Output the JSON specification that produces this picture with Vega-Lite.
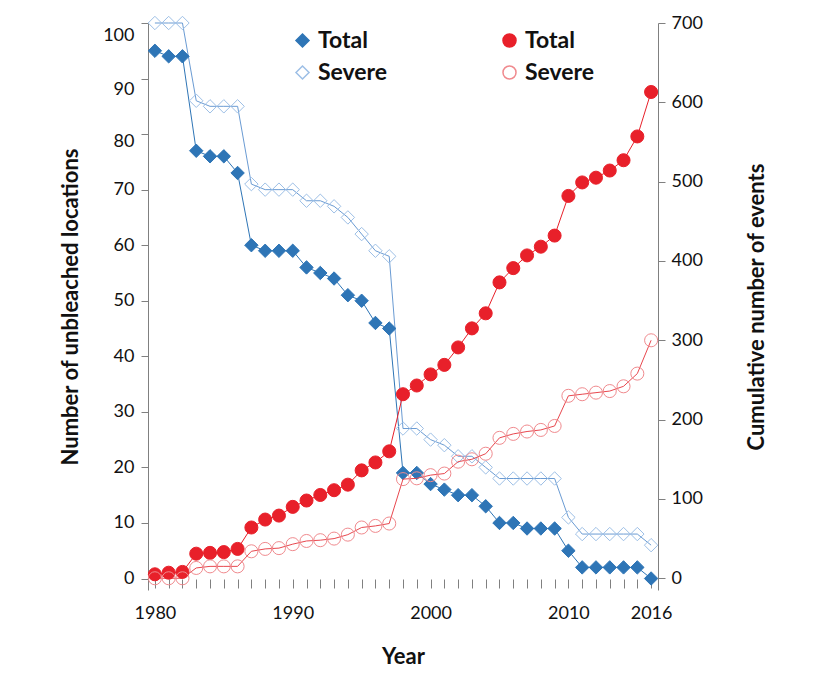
{
  "$schema": "https://vega.github.io/schema/vega-lite/v6.json",
  "autosize": {"type": "none"},
  "width": 510,
  "height": 567,
  "padding": {"left": 148, "top": 23, "right": 162, "bottom": 89},
  "background": "white",
  "config": {
    "view": {"stroke": null},
    "font": "Lato",
    "axis": {
      "grid": false,
      "labelFont": "Lato",
      "labelFontSize": 18,
      "labelColor": "#111111",
      "titleFont": "Lato",
      "titleFontSize": 22,
      "titleFontWeight": "bold",
      "titleColor": "#111111",
      "domainColor": "#808080",
      "tickColor": "#808080",
      "tickSize": 7
    }
  },
  "datasets": {
    "unbleached": [
      {"year": 1980, "series": "Total", "value": 95}, {"year": 1981, "series": "Total", "value": 94}, {"year": 1982, "series": "Total", "value": 94}, {"year": 1983, "series": "Total", "value": 77}, {"year": 1984, "series": "Total", "value": 76}, {"year": 1985, "series": "Total", "value": 76}, {"year": 1986, "series": "Total", "value": 73}, {"year": 1987, "series": "Total", "value": 60}, {"year": 1988, "series": "Total", "value": 59}, {"year": 1989, "series": "Total", "value": 59}, {"year": 1990, "series": "Total", "value": 59}, {"year": 1991, "series": "Total", "value": 56}, {"year": 1992, "series": "Total", "value": 55}, {"year": 1993, "series": "Total", "value": 54}, {"year": 1994, "series": "Total", "value": 51}, {"year": 1995, "series": "Total", "value": 50}, {"year": 1996, "series": "Total", "value": 46}, {"year": 1997, "series": "Total", "value": 45}, {"year": 1998, "series": "Total", "value": 19}, {"year": 1999, "series": "Total", "value": 19}, {"year": 2000, "series": "Total", "value": 17}, {"year": 2001, "series": "Total", "value": 16}, {"year": 2002, "series": "Total", "value": 15}, {"year": 2003, "series": "Total", "value": 15}, {"year": 2004, "series": "Total", "value": 13}, {"year": 2005, "series": "Total", "value": 10}, {"year": 2006, "series": "Total", "value": 10}, {"year": 2007, "series": "Total", "value": 9}, {"year": 2008, "series": "Total", "value": 9}, {"year": 2009, "series": "Total", "value": 9}, {"year": 2010, "series": "Total", "value": 5}, {"year": 2011, "series": "Total", "value": 2}, {"year": 2012, "series": "Total", "value": 2}, {"year": 2013, "series": "Total", "value": 2}, {"year": 2014, "series": "Total", "value": 2}, {"year": 2015, "series": "Total", "value": 2}, {"year": 2016, "series": "Total", "value": 0},
      {"year": 1980, "series": "Severe", "value": 100}, {"year": 1981, "series": "Severe", "value": 100}, {"year": 1982, "series": "Severe", "value": 100}, {"year": 1983, "series": "Severe", "value": 86}, {"year": 1984, "series": "Severe", "value": 85}, {"year": 1985, "series": "Severe", "value": 85}, {"year": 1986, "series": "Severe", "value": 85}, {"year": 1987, "series": "Severe", "value": 71}, {"year": 1988, "series": "Severe", "value": 70}, {"year": 1989, "series": "Severe", "value": 70}, {"year": 1990, "series": "Severe", "value": 70}, {"year": 1991, "series": "Severe", "value": 68}, {"year": 1992, "series": "Severe", "value": 68}, {"year": 1993, "series": "Severe", "value": 67}, {"year": 1994, "series": "Severe", "value": 65}, {"year": 1995, "series": "Severe", "value": 62}, {"year": 1996, "series": "Severe", "value": 59}, {"year": 1997, "series": "Severe", "value": 58}, {"year": 1998, "series": "Severe", "value": 27}, {"year": 1999, "series": "Severe", "value": 27}, {"year": 2000, "series": "Severe", "value": 25}, {"year": 2001, "series": "Severe", "value": 24}, {"year": 2002, "series": "Severe", "value": 22}, {"year": 2003, "series": "Severe", "value": 22}, {"year": 2004, "series": "Severe", "value": 20}, {"year": 2005, "series": "Severe", "value": 18}, {"year": 2006, "series": "Severe", "value": 18}, {"year": 2007, "series": "Severe", "value": 18}, {"year": 2008, "series": "Severe", "value": 18}, {"year": 2009, "series": "Severe", "value": 18}, {"year": 2010, "series": "Severe", "value": 11}, {"year": 2011, "series": "Severe", "value": 8}, {"year": 2012, "series": "Severe", "value": 8}, {"year": 2013, "series": "Severe", "value": 8}, {"year": 2014, "series": "Severe", "value": 8}, {"year": 2015, "series": "Severe", "value": 8}, {"year": 2016, "series": "Severe", "value": 6}
    ],
    "events": [
      {"year": 1980, "series": "Total", "value": 5}, {"year": 1981, "series": "Total", "value": 7}, {"year": 1982, "series": "Total", "value": 8}, {"year": 1983, "series": "Total", "value": 31}, {"year": 1984, "series": "Total", "value": 32}, {"year": 1985, "series": "Total", "value": 33}, {"year": 1986, "series": "Total", "value": 37}, {"year": 1987, "series": "Total", "value": 64}, {"year": 1988, "series": "Total", "value": 74}, {"year": 1989, "series": "Total", "value": 79}, {"year": 1990, "series": "Total", "value": 90}, {"year": 1991, "series": "Total", "value": 98}, {"year": 1992, "series": "Total", "value": 105}, {"year": 1993, "series": "Total", "value": 111}, {"year": 1994, "series": "Total", "value": 118}, {"year": 1995, "series": "Total", "value": 136}, {"year": 1996, "series": "Total", "value": 146}, {"year": 1997, "series": "Total", "value": 160}, {"year": 1998, "series": "Total", "value": 232}, {"year": 1999, "series": "Total", "value": 243}, {"year": 2000, "series": "Total", "value": 257}, {"year": 2001, "series": "Total", "value": 269}, {"year": 2002, "series": "Total", "value": 291}, {"year": 2003, "series": "Total", "value": 315}, {"year": 2004, "series": "Total", "value": 334}, {"year": 2005, "series": "Total", "value": 373}, {"year": 2006, "series": "Total", "value": 391}, {"year": 2007, "series": "Total", "value": 407}, {"year": 2008, "series": "Total", "value": 418}, {"year": 2009, "series": "Total", "value": 432}, {"year": 2010, "series": "Total", "value": 482}, {"year": 2011, "series": "Total", "value": 499}, {"year": 2012, "series": "Total", "value": 505}, {"year": 2013, "series": "Total", "value": 514}, {"year": 2014, "series": "Total", "value": 527}, {"year": 2015, "series": "Total", "value": 557}, {"year": 2016, "series": "Total", "value": 613},
      {"year": 1980, "series": "Severe", "value": 0}, {"year": 1981, "series": "Severe", "value": 0}, {"year": 1982, "series": "Severe", "value": 0}, {"year": 1983, "series": "Severe", "value": 13}, {"year": 1984, "series": "Severe", "value": 15}, {"year": 1985, "series": "Severe", "value": 15}, {"year": 1986, "series": "Severe", "value": 15}, {"year": 1987, "series": "Severe", "value": 34}, {"year": 1988, "series": "Severe", "value": 37}, {"year": 1989, "series": "Severe", "value": 38}, {"year": 1990, "series": "Severe", "value": 43}, {"year": 1991, "series": "Severe", "value": 47}, {"year": 1992, "series": "Severe", "value": 48}, {"year": 1993, "series": "Severe", "value": 50}, {"year": 1994, "series": "Severe", "value": 55}, {"year": 1995, "series": "Severe", "value": 64}, {"year": 1996, "series": "Severe", "value": 66}, {"year": 1997, "series": "Severe", "value": 69}, {"year": 1998, "series": "Severe", "value": 125}, {"year": 1999, "series": "Severe", "value": 126}, {"year": 2000, "series": "Severe", "value": 130}, {"year": 2001, "series": "Severe", "value": 132}, {"year": 2002, "series": "Severe", "value": 147}, {"year": 2003, "series": "Severe", "value": 150}, {"year": 2004, "series": "Severe", "value": 157}, {"year": 2005, "series": "Severe", "value": 177}, {"year": 2006, "series": "Severe", "value": 182}, {"year": 2007, "series": "Severe", "value": 185}, {"year": 2008, "series": "Severe", "value": 187}, {"year": 2009, "series": "Severe", "value": 192}, {"year": 2010, "series": "Severe", "value": 230}, {"year": 2011, "series": "Severe", "value": 232}, {"year": 2012, "series": "Severe", "value": 234}, {"year": 2013, "series": "Severe", "value": 236}, {"year": 2014, "series": "Severe", "value": 242}, {"year": 2015, "series": "Severe", "value": 258}, {"year": 2016, "series": "Severe", "value": 300}
    ]
  },
  "encoding": {
    "x": {
      "field": "year",
      "type": "quantitative",
      "scale": {"domain": [1979.5, 2016.5], "nice": false, "zero": false},
      "axis": {
        "title": "Year",
        "domain": false,
        "offset": -11,
        "tickSize": 9,
        "labelPadding": 16,
        "titlePadding": 24,
        "format": "d",
        "labelOverlap": false,
        "values": [1980,1981,1982,1983,1984,1985,1986,1987,1988,1989,1990,1991,1992,1993,1994,1995,1996,1997,1998,1999,2000,2001,2002,2003,2004,2005,2006,2007,2008,2009,2010,2011,2012,2013,2014,2015,2016],
        "labelExpr": "indexof([1980,1990,2000,2010,2016], datum.value) >= 0 ? datum.label : ''"
      }
    }
  },
  "layer": [
    {
      "data": {"name": "unbleached"},
      "mark": {"type": "line", "strokeWidth": 1},
      "encoding": {
        "y": {
          "field": "value",
          "type": "quantitative",
          "scale": {"domain": [-2.07, 100], "nice": false, "zero": false},
          "axis": {
            "title": "Number of unbleached locations",
            "orient": "left",
            "values": [0,10,20,30,40,50,60,70,80,90,100],
            "labelPadding": 7,
            "titlePadding": 20,
            "labelOffset": {"condition": [{"test": "datum.value >= 100", "value": 12}, {"test": "datum.value >= 90", "value": 11}, {"test": "datum.value >= 80", "value": 7}], "value": 0}
          }
        },
        "color": {"field": "series", "type": "nominal", "scale": {"domain": ["Total", "Severe"], "range": ["#2E75B6", "#6A9BD3"]}, "legend": null}
      }
    },
    {
      "data": {"name": "unbleached"},
      "mark": {"type": "point", "filled": true, "size": 180, "strokeWidth": 1, "opacity": 1, "shape": "diamond"},
      "encoding": {
        "y": {"field": "value", "type": "quantitative", "scale": {"domain": [-2.07, 100], "nice": false, "zero": false}, "axis": null},
        "fill": {"field": "series", "type": "nominal", "scale": {"domain": ["Total", "Severe"], "range": ["#2E75B6", "rgba(255,255,255,0)"]},
          "legend": {"title": null, "orient": "none", "legendX": 143, "legendY": 6, "symbolType": "diamond", "symbolSize": 170, "labelFont": "Lato", "labelFontSize": 23, "labelFontWeight": "bold", "labelColor": "#111111", "labelOffset": 4, "rowPadding": 8, "padding": 0,
            "encode": {"symbols": {"update": {
              "stroke": {"signal": "datum.value === 'Severe' ? '#7FA7D8' : '#2E75B6'"},
              "strokeWidth": {"value": 1}
            }}}}},
        "stroke": {"field": "series", "type": "nominal", "scale": {"domain": ["Total", "Severe"], "range": ["#2E75B6", "#9DBFE6"]}, "legend": null}
      }
    },
    {
      "data": {"name": "events"},
      "mark": {"type": "line", "strokeWidth": 1},
      "encoding": {
        "y": {
          "field": "value",
          "type": "quantitative",
          "scale": {"domain": [-14.8, 700], "nice": false, "zero": false},
          "axis": {
            "title": "Cumulative number of events",
            "orient": "right",
            "values": [0,100,200,300,400,500,600,700],
            "labelPadding": 6,
            "titlePadding": 66,
            "titleAngle": 270
          }
        },
        "color": {"field": "series", "type": "nominal", "scale": {"domain": ["Total", "Severe"], "range": ["#E8202A", "#E8474E"]}, "legend": null}
      }
    },
    {
      "data": {"name": "events"},
      "mark": {"type": "point", "filled": true, "size": 170, "strokeWidth": 1, "opacity": 1, "shape": "circle"},
      "encoding": {
        "y": {"field": "value", "type": "quantitative", "scale": {"domain": [-14.8, 700], "nice": false, "zero": false}, "axis": null},
        "fill": {"field": "series", "type": "nominal", "scale": {"domain": ["Total", "Severe"], "range": ["#E8202A", "rgba(255,255,255,0)"]},
          "legend": {"title": null, "orient": "none", "legendX": 350, "legendY": 6, "symbolType": "circle", "symbolSize": 170, "labelFont": "Lato", "labelFontSize": 23, "labelFontWeight": "bold", "labelColor": "#111111", "labelOffset": 4, "rowPadding": 8, "padding": 0,
            "encode": {"symbols": {"update": {
              "stroke": {"signal": "datum.value === 'Severe' ? '#EE8088' : '#E8202A'"},
              "strokeWidth": {"value": 1}
            }}}}},
        "stroke": {"field": "series", "type": "nominal", "scale": {"domain": ["Total", "Severe"], "range": ["#E8202A", "#F08A8E"]}, "legend": null}
      }
    }
  ],
  "resolve": {
    "scale": {"y": "independent", "color": "independent", "fill": "independent", "stroke": "independent"},
    "legend": {"color": "independent", "fill": "independent", "stroke": "independent"}
  }
}
